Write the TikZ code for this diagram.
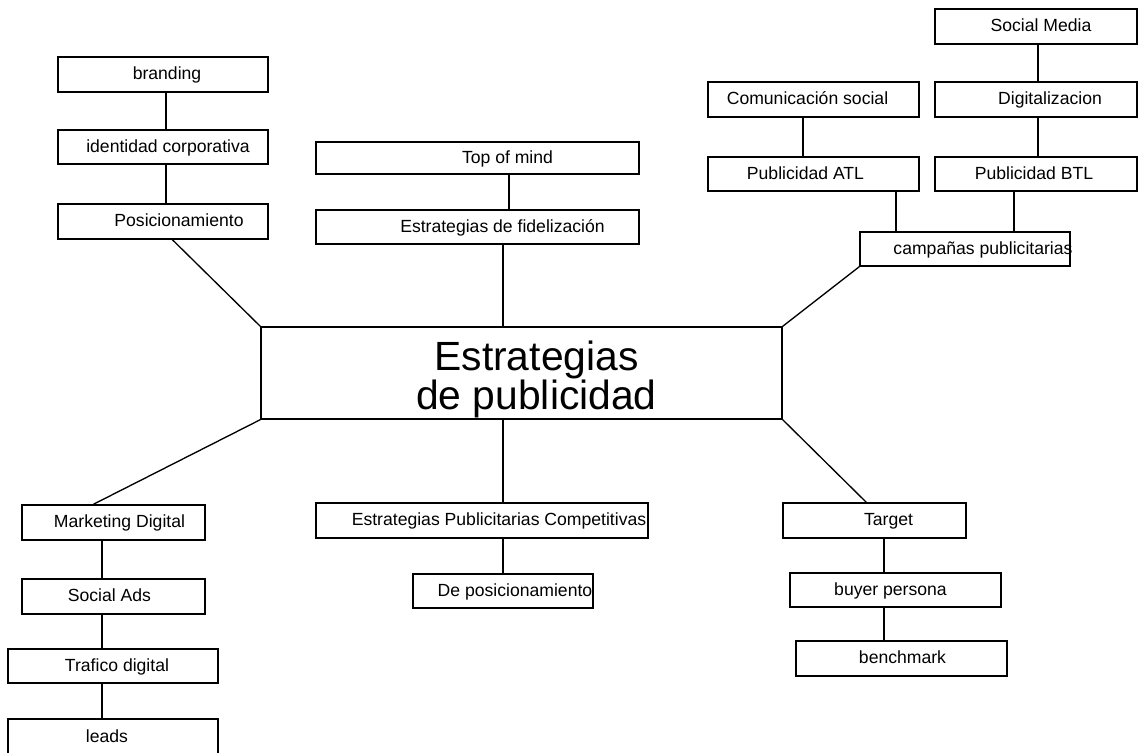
\documentclass[tikz,border=0pt]{standalone}
\usepackage{fontspec}
\setmainfont{Liberation Sans}
\usetikzlibrary{calc}

% One unit = one drawing pixel (0.75pt), y grows downward.
\tikzset{
  box/.style={draw=black, line width=1pt, fill=white, inner sep=0pt},
  boxtext/.style={font=\fontsize{13.2}{15}\selectfont, inner sep=0pt,
    text height=0.73em, text depth=0.21em},
  link/.style={draw=black, line width=1pt},
}

% \mkbox{name}{x1}{y1}{x2}{y2}{text shift}{text}
\newcommand\mkbox[7]{%
  \node[box, minimum width={(#4-#2)*0.75pt}, minimum height={(#5-#3)*0.75pt},
        label={[boxtext, xshift={(#6)*0.75pt}, yshift={-1.2pt}]center:#7}]
       (#1) at ({(#2+#4)/2},{(#3+#5)/2}) {};}

% vertical connector: from the bottom of #1 (shifted by #2) down to the top of #3
\newcommand\vlink[3]{%
  \draw[link] ($(#1.south)+(#2,0)$) coordinate (vl) -- (vl |- #3.north);}

\begin{document}
\begin{tikzpicture}[x=0.75pt, y=-0.75pt]
\useasboundingbox (0,0) rectangle (1140,753);
\fill[white] (0,0) rectangle (1140,753);

% central topic
\node[box, minimum width={521*0.75pt}, minimum height={92*0.75pt},
      label={[align=center, inner sep=0pt, xshift={15*0.75pt}, yshift={-5pt},
              font=\fontsize{30.6}{25.5}\selectfont]center:Estrategias\\de publicidad}]
     (cen) at (521.5,373) {};

% upper left branch
\mkbox{brand}{58}{57}{268}{92}{4}{branding}
\mkbox{ident}{58}{130}{268}{164}{5}{identidad corporativa}
\mkbox{posi}{58}{204}{268}{239}{16}{Posicionamiento}

% upper middle branch
\mkbox{top}{316}{142}{639}{174}{30}{Top of mind}
\mkbox{fide}{316}{210}{639}{244}{25}{Estrategias de fidelización}

% upper right branch
\mkbox{smed}{935}{9}{1137}{44}{5}{Social Media}
\mkbox{comu}{708}{82}{919}{117}{-6}{Comunicación social}
\mkbox{digi}{935}{82}{1137}{117}{14}{Digitalizacion}
\mkbox{patl}{708}{157}{919}{191}{-8}{Publicidad ATL}
\mkbox{pbtl}{935}{157}{1137}{191}{-2}{Publicidad BTL}
\mkbox{camp}{860}{232}{1070}{266}{18}{campañas publicitarias}

% lower left branch
\mkbox{mkt}{22}{505}{205}{540}{6}{Marketing Digital}
\mkbox{sads}{22}{579}{205}{614}{-4}{Social Ads}
\mkbox{traf}{8}{649}{218}{683}{4}{Trafico digital}
\mkbox{lead}{8}{719}{218}{756}{-6}{leads}

% lower middle branch
\mkbox{comp}{316}{503}{648}{538}{17}{Estrategias Publicitarias Competitivas}
\mkbox{depo}{413}{574}{593}{608}{12}{De posicionamiento}

% lower right branch
\mkbox{targ}{783}{503}{966}{538}{14}{Target}
\mkbox{buye}{790}{573}{1001}{607}{-5}{buyer persona}
\mkbox{benc}{796}{641}{1007}{676}{1}{benchmark}

% chains of vertical connectors
\vlink{brand}{3}{ident}
\vlink{ident}{3}{posi}
\vlink{top}{31.5}{fide}
\vlink{fide}{25.5}{cen}
\vlink{smed}{2}{digi}
\vlink{digi}{2}{pbtl}
\vlink{comu}{-10.5}{patl}
\vlink{patl}{82.5}{camp}
\vlink{pbtl}{-22}{camp}
\vlink{mkt}{-11.5}{sads}
\vlink{sads}{-11.5}{traf}
\vlink{traf}{-11}{lead}
\draw[link] ($(cen.south)+(-18.5,0)$) coordinate (vl) -- (vl |- comp.north);
\vlink{comp}{21}{depo}
\vlink{targ}{9.5}{buye}
\vlink{buye}{-11.5}{benc}

% diagonal connectors to the central topic
\draw[link] ($(posi.south west)+(115,0)$) -- (cen.north west);
\draw[link] (camp.south west) -- (cen.north east);
\draw[link] (cen.south west) -- ($(mkt.north west)+(72,0)$);
\draw[link] (cen.south east) -- ($(targ.north west)+(84,0)$);
\end{tikzpicture}
\end{document}
